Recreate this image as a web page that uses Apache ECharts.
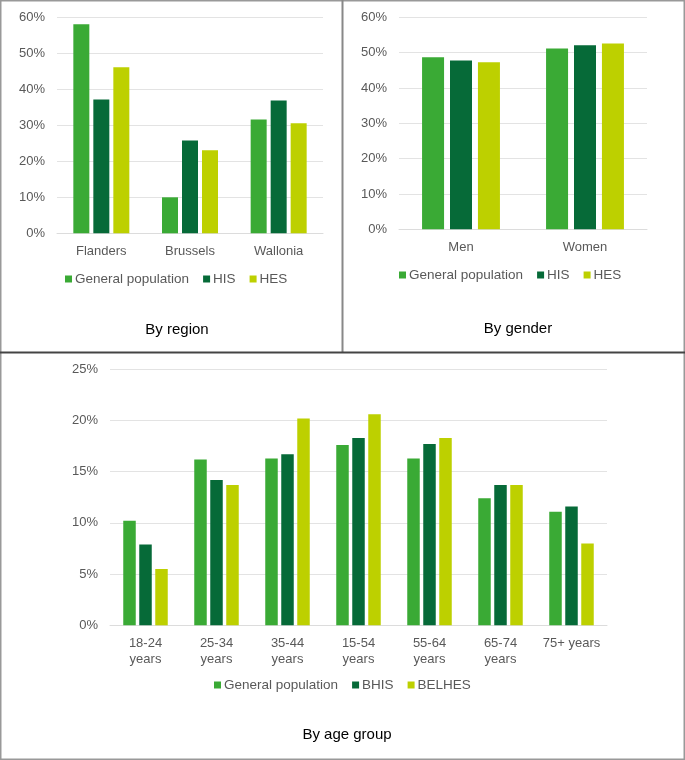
<!DOCTYPE html>
<html>
<head>
<meta charset="utf-8">
<script src="https://cdn.jsdelivr.net/npm/echarts@6/dist/echarts.min.js"></script>
<style>html,body{margin:0;padding:0;background:#fff;}#c{width:685px;height:760px;}</style>
</head>
<body>
<div id="c"></div>
<script>
// ---- data ----
const regionCats = ['Flanders', 'Brussels', 'Wallonia'];
const regionGP  = [58.1, 10.0, 31.6];
const regionHIS = [37.2, 25.8, 36.9];
const regionHES = [46.1, 23.1, 30.6];

const genderCats = ['Men', 'Women'];
const genderGP  = [48.7, 51.2];
const genderHIS = [47.8, 52.1];
const genderHES = [47.3, 52.6];

const ageCats = ['18-24\nyears', '25-34\nyears', '35-44\nyears', '15-54\nyears', '55-64\nyears', '65-74\nyears', '75+ years'];
const ageGP    = [10.2, 16.2, 16.3, 17.6, 16.3, 12.4, 11.1];
const ageBHIS  = [7.9, 14.2, 16.7, 18.3, 17.7, 13.7, 11.6];
const ageBELHES= [5.5, 13.7, 20.2, 20.6, 18.3, 13.7, 8.0];

const topLegend = ['General population', 'HIS', 'HES'];
const ageLegend = ['General population', 'BHIS', 'BELHES'];
const titles = ['By region', 'By gender', 'By age group'];

// ---- style ----
const C_GP = '#3aaa35', C_HIS = '#066a38', C_HES = '#bdd000';
const FONT = '"Liberation Sans", Arial, sans-serif';
const LBL = '#595959';

function yAx(gi, max, interval) {
  return {
    type: 'value', gridIndex: gi, min: 0, max: max, interval: interval,
    axisLine: {show: false}, axisTick: {show: false},
    splitLine: {lineStyle: {color: '#e3e3e3', width: 1}},
    axisLabel: {formatter: '{value}%', color: LBL, fontSize: 13, fontFamily: FONT, margin: 12}
  };
}
function xAx(gi, cats) {
  return {
    type: 'category', gridIndex: gi, data: cats,
    axisLine: {show: true, lineStyle: {color: '#dcdcdc', width: 1}},
    axisTick: {show: false},
    axisLabel: {color: LBL, fontSize: 13, fontFamily: FONT, margin: 10, lineHeight: 16, interval: 0}
  };
}
function bar(name, gi, data, color, w, gap) {
  return {
    type: 'bar', name: name, xAxisIndex: gi, yAxisIndex: gi, data: data,
    barWidth: w, barGap: gap, itemStyle: {color: color},
    emphasis: {disabled: true}
  };
}
function legend(data, left, top) {
  return {
    data: data, left: left, top: top, orient: 'horizontal', padding: 0,
    itemWidth: 7, itemHeight: 7, itemGap: 14, icon: 'rect',
    textStyle: {color: LBL, fontSize: 13.5, fontFamily: FONT, padding: [0, 0, 0, -2]}
  };
}
function title(text, cx, top) {
  return {text: text, left: cx, top: top, textAlign: 'center',
    textStyle: {color: '#000', fontSize: 15, fontWeight: 'normal', fontFamily: FONT}};
}

const chart = echarts.init(document.getElementById('c'), null, {renderer: 'canvas'});
chart.setOption({
  animation: false,
  backgroundColor: '#fff',
  title: [title(titles[0], 172, 317), title(titles[1], 513, 316), title(titles[2], 342, 722)],
  legend: [legend(topLegend, 65, 272), legend(topLegend, 399, 268), legend(ageLegend, 214, 678)],
  grid: [
    {left: 57, top: 17.3, width: 266, height: 216},
    {left: 399, top: 17.3, width: 248, height: 212},
    {left: 110, top: 369.3, width: 497, height: 256}
  ],
  xAxis: [xAx(0, regionCats), xAx(1, genderCats), xAx(2, ageCats)],
  yAxis: [yAx(0, 60, 10), yAx(1, 60, 10), yAx(2, 25, 5)],
  series: [
    bar('General population', 0, regionGP, C_GP, 16, '25%'),
    bar('HIS', 0, regionHIS, C_HIS, 16, '25%'),
    bar('HES', 0, regionHES, C_HES, 16, '25%'),
    bar('General population', 1, genderGP, C_GP, 22, '27%'),
    bar('HIS', 1, genderHIS, C_HIS, 22, '27%'),
    bar('HES', 1, genderHES, C_HES, 22, '27%'),
    bar('General population', 2, ageGP, C_GP, 12.5, '28%'),
    bar('BHIS', 2, ageBHIS, C_HIS, 12.5, '28%'),
    bar('BELHES', 2, ageBELHES, C_HES, 12.5, '28%')
  ],
  graphic: [
    {type: 'rect', shape: {x: 0.75, y: 0.75, width: 683.5, height: 758.5}, style: {fill: 'none', stroke: '#999', lineWidth: 1.5}, silent: true},
    {type: 'line', shape: {x1: 342.5, y1: 0, x2: 342.5, y2: 352}, style: {stroke: '#888', lineWidth: 2}, silent: true},
    {type: 'line', shape: {x1: 0, y1: 352.5, x2: 685, y2: 352.5}, style: {stroke: '#444', lineWidth: 2}, silent: true}
  ]
});
</script>
</body>
</html>
